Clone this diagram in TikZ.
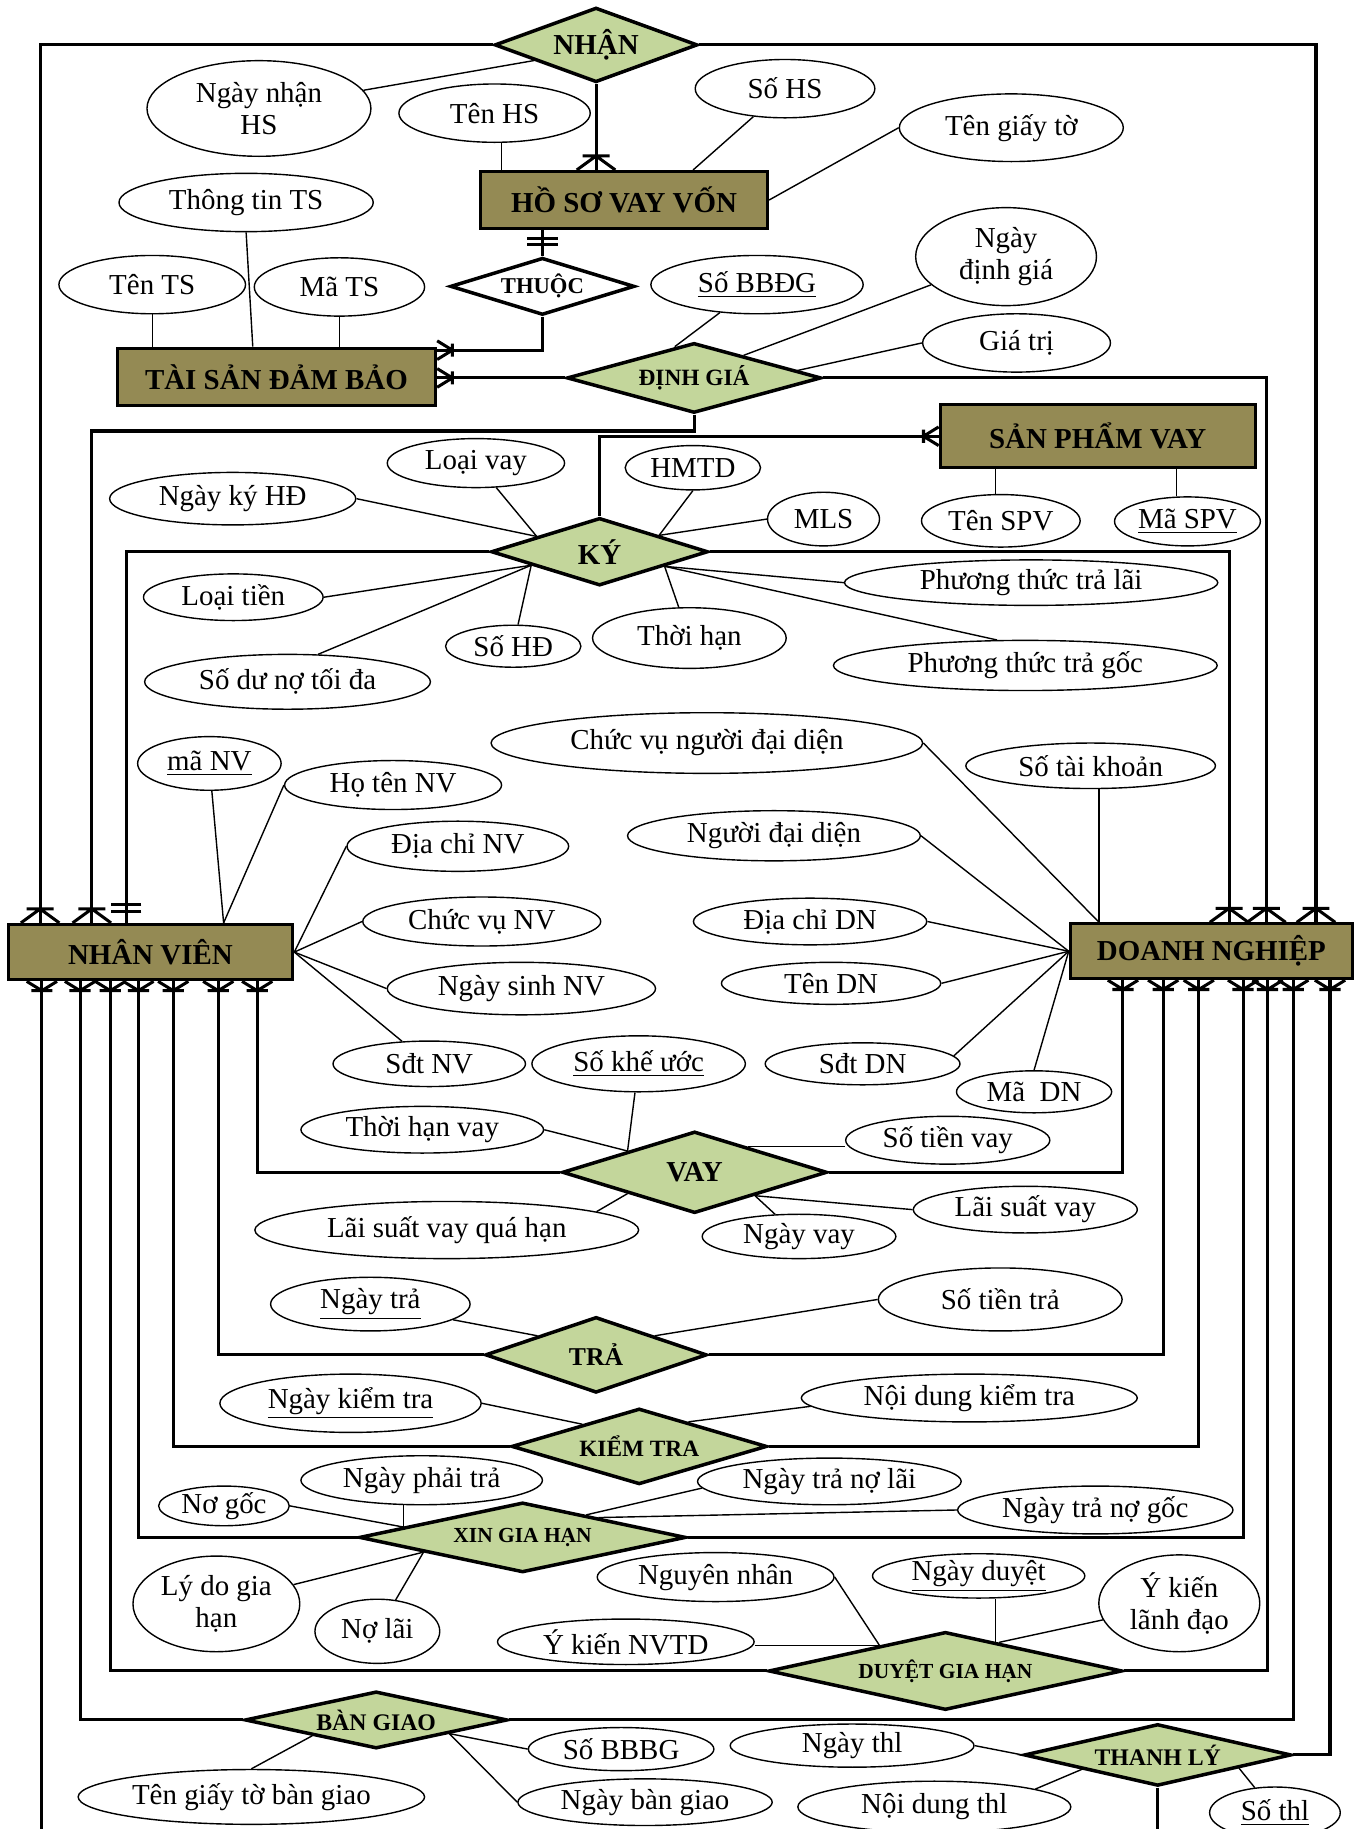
\documentclass[tikz,border=0pt]{standalone}
\usepackage{fontspec}
\setmainfont{Liberation Serif}
\usetikzlibrary{shapes.geometric,arrows.meta,calc}

\definecolor{entfill}{HTML}{948A54}
\definecolor{relfill}{HTML}{C3D69B}

% crow's foot with a bar ("one or many")
\pgfdeclarearrow{
  name = CrowFoot,
  parameters = {\the\pgfarrowlength,\the\pgfarrowwidth},
  setup code = {
    \pgfarrowssettipend{0pt}
    \pgfarrowssetlineend{0pt}
    \pgfarrowssetbackend{-\pgfarrowlength}
    \pgfarrowssavethe\pgfarrowlength
    \pgfarrowssavethe\pgfarrowwidth
  },
  drawing code = {
    \pgfsetdash{}{0pt}
    \pgfsetroundjoin
    \pgfpathmoveto{\pgfqpoint{0pt}{.5\pgfarrowwidth}}
    \pgfpathlineto{\pgfqpoint{-\pgfarrowlength}{0pt}}
    \pgfpathlineto{\pgfqpoint{0pt}{-.5\pgfarrowwidth}}
    \pgfpathmoveto{\pgfqpoint{-\pgfarrowlength}{.35\pgfarrowwidth}}
    \pgfpathlineto{\pgfqpoint{-\pgfarrowlength}{-.35\pgfarrowwidth}}
    \pgfusepathqstroke
  },
  defaults = {length = 6pt, width = 16pt}
}

% two bars ("one and only one")
\pgfdeclarearrow{
  name = TwoBars,
  parameters = {\the\pgfarrowlength,\the\pgfarrowwidth},
  setup code = {
    \pgfarrowssettipend{0pt}
    \pgfarrowssetlineend{0pt}
    \pgfarrowssetbackend{-\pgfarrowlength}
    \pgfarrowssavethe\pgfarrowlength
    \pgfarrowssavethe\pgfarrowwidth
  },
  drawing code = {
    \pgfsetdash{}{0pt}
    \pgfpathmoveto{\pgfqpoint{-.6\pgfarrowlength}{.5\pgfarrowwidth}}
    \pgfpathlineto{\pgfqpoint{-.6\pgfarrowlength}{-.5\pgfarrowwidth}}
    \pgfpathmoveto{\pgfqpoint{-\pgfarrowlength}{.5\pgfarrowwidth}}
    \pgfpathlineto{\pgfqpoint{-\pgfarrowlength}{-.5\pgfarrowwidth}}
    \pgfusepathqstroke
  },
  defaults = {length = 8pt, width = 13pt}
}

% attribute ellipse: name, x, y, half width, half height, text
\newcommand\attrnode[6]{\node[attr, minimum width=#4pt, minimum height=#5pt] (#1) at (#2,#3) {#6};}

\begin{document}
\begin{tikzpicture}[x=0.5pt, y=-0.5pt,
  ent/.style={draw, line width=1.3pt, fill=entfill, inner sep=0pt,
    font=\bfseries\fontsize{12.4}{14}\selectfont},
  rel/.style={diamond, draw, line width=1.5pt, fill=relfill, inner sep=0pt,
    font=\bfseries\fontsize{#1}{#1}\selectfont},
  rel/.default=12.4,
  attr/.style={ellipse, draw, line width=0.6pt, fill=white, inner sep=0pt,
    align=center, font=\fontsize{12.4}{14}\selectfont},
  conn/.style={line width=1.3pt},
  al/.style={line width=0.6pt},
  cft/.style={-{CrowFoot[length=6pt,width=16.5pt]}},
  cfb/.style={-{CrowFoot[length=4pt,width=13pt]}},
  cfs/.style={-{CrowFoot[length=6.5pt,width=8pt]}},
  bbt/.style={-{TwoBars[length=8pt,width=13pt]}},
  bbs/.style={-{TwoBars[length=6pt,width=13pt]}}
]
\useasboundingbox (0,0) rectangle (1162,1568);
\fill[white] (0,0) rectangle (1162,1568);
\coordinate (pagebot) at (0,1580);

% ---------- entities ----------
\node[ent, minimum width=123pt, minimum height=24.5pt] (hs) at (535,171.5) {HỒ SƠ VAY VỐN};
\node[ent, minimum width=136.5pt, minimum height=24.75pt] (ts) at (237,323.25) {TÀI SẢN ĐẢM BẢO};
\node[ent, minimum width=135pt, minimum height=27pt] (spv) at (941,374) {SẢN PHẨM VAY};
\node[ent, minimum width=122pt, minimum height=23.75pt] (nv) at (129,816.25) {NHÂN VIÊN};
\node[ent, minimum width=121pt, minimum height=23.5pt] (dn) at (1038.5,815.5) {DOANH NGHIỆP};

% ---------- relationships ----------
\node[rel, minimum width=87pt, minimum height=32pt, aspect=2.72] (nhan) at (511,38.5) {NHẬN};
\node[rel=9.7, fill=white, minimum width=79pt, minimum height=24.5pt, aspect=3.2] (thuoc) at (465,245.5) {THUỘC};
\node[rel=10, minimum width=109pt, minimum height=30pt, aspect=3.63] (dg) at (595,324) {ĐỊNH GIÁ};
\node[rel, minimum width=93pt, minimum height=29pt, aspect=3.2] (ky) at (514,473) {KÝ};
\node[rel, minimum width=113.5pt, minimum height=35pt, aspect=3.24] (vay) at (595.5,1005) {VAY};
\node[rel=11, minimum width=95pt, minimum height=32.5pt, aspect=2.92] (tra) at (511,1161.5) {TRẢ};
\node[rel=10, minimum width=109.5pt, minimum height=32.5pt, aspect=3.37] (kt) at (548,1240) {KIỂM TRA};
\node[rel=9.2, minimum width=140pt, minimum height=30pt, aspect=4.67] (xgh) at (448,1318) {XIN GIA HẠN};
\node[rel=9.2, minimum width=151.5pt, minimum height=33.5pt, aspect=4.5] (dgh) at (810.5,1432.5) {DUYỆT GIA HẠN};
\node[rel=10.2, minimum width=112.5pt, minimum height=24.5pt, aspect=4.5] (bg) at (322.5,1474.5) {BÀN GIAO};
\node[rel=10.2, minimum width=114.5pt, minimum height=26.5pt, aspect=4.26] (tl) at (992.5,1504.5) {THANH LÝ};

% ---------- attributes ----------
\attrnode{nnhs}{222}{93}{96}{41}{Ngày nhận\\HS}
\attrnode{tenhs}{424}{97}{82}{25}{Tên HS}
\attrnode{sohs}{673}{76}{77}{25}{Số HS}
\attrnode{tgt}{867}{109.5}{96}{29}{Tên giấy tờ}
\attrnode{ttts}{211}{173.6}{109}{25}{Thông tin TS}
\attrnode{tents}{130.5}{244}{80}{25}{Tên TS}
\attrnode{mats}{291}{246}{73}{25}{Mã TS}
\attrnode{sobbdg}{649}{244}{91}{25}{\underline{Số BBĐG}}
\attrnode{ndg}{862.5}{220}{77.5}{42}{Ngày\\định giá}
\attrnode{giatri}{871.5}{294}{80.5}{25}{Giá trị}
\attrnode{tenspv}{858}{446.5}{68}{22.5}{Tên SPV}
\attrnode{maspv}{1018}{447}{62.5}{21}{\underline{Mã SPV}}
\attrnode{loaivay}{408}{397}{76}{21}{Loại vay}
\attrnode{nkhd}{199.5}{427.5}{105.5}{22.5}{Ngày ký HĐ}
\attrnode{hmtd}{594}{401}{58}{19}{HMTD}
\attrnode{mls}{706}{445}{48}{23}{MLS}
\attrnode{loaitien}{200}{512}{77}{20}{Loại tiền}
\attrnode{sdn}{246.5}{584.5}{122.5}{23.5}{Số dư nợ tối đa}
\attrnode{sohd}{440}{554}{58}{18}{Số HĐ}
\attrnode{thoihan}{591}{547}{83}{26}{Thời hạn}
\attrnode{pttl}{884}{499.5}{160}{19.5}{Phương thức trả lãi}
\attrnode{pttg}{879}{570.5}{164.5}{21.5}{Phương thức trả gốc}
\attrnode{cvndd}{606}{637}{185}{26}{Chức vụ người đại diện}
\attrnode{stk}{935}{656.5}{107}{19.5}{Số tài khoản}
\attrnode{ndd}{663.5}{716.5}{125.5}{21.5}{Người đại diện}
\attrnode{manv}{179.5}{654.5}{61.5}{23}{\underline{mã NV}}
\attrnode{htnv}{337}{673}{93}{21}{Họ tên NV}
\attrnode{dcnv}{392.5}{725.5}{95}{21.5}{Địa chỉ NV}
\attrnode{cvnv}{413}{790}{102}{21}{Chức vụ NV}
\attrnode{nsnv}{447}{847.5}{115}{22.5}{Ngày sinh NV}
\attrnode{sdtnv}{368}{912}{82.5}{19.5}{Sđt NV}
\attrnode{dcdn}{694.5}{790}{100}{20}{Địa chỉ DN}
\attrnode{tendn}{712.5}{843}{94}{18}{Tên DN}
\attrnode{sdtdn}{739.5}{912}{83.5}{18}{Sđt DN}
\attrnode{madn}{886.5}{936}{66.5}{18}{Mã~~DN}
\attrnode{ske}{547.5}{912}{91.5}{24}{\underline{Số khế ước}}
\attrnode{thv}{362}{968.5}{104}{20}{Thời hạn vay}
\attrnode{stv}{812.5}{977.5}{87.5}{20.5}{Số tiền vay}
\attrnode{lsvqh}{383}{1054.5}{164.5}{24.5}{Lãi suất vay quá hạn}
\attrnode{nvay}{685}{1060}{83}{19}{Ngày vay}
\attrnode{lsv}{879}{1037}{96}{20}{Lãi suất vay}
\attrnode{ntra}{317.5}{1118}{85.5}{23}{\underline{Ngày trả}}
\attrnode{sttra}{857.5}{1114}{104.5}{27}{Số tiền trả}
\attrnode{nkt}{300.5}{1203}{112}{25}{\underline{Ngày kiểm tra}}
\attrnode{ndkt}{831}{1198.5}{144}{20.5}{Nội dung kiểm tra}
\attrnode{nogoc}{192}{1291}{56}{17}{Nơ gốc}
\attrnode{npt}{361.5}{1269}{103.5}{21}{Ngày phải trả}
\attrnode{ntnl}{711}{1270}{113}{20}{Ngày trả nợ lãi}
\attrnode{ntng}{939}{1294.5}{118}{20.5}{Ngày trả nợ gốc}
\attrnode{lydo}{185.5}{1375}{71.5}{41}{Lý do gia\\hạn}
\attrnode{nolai}{323.5}{1398.5}{53.5}{27.5}{Nợ lãi}
\attrnode{ngn}{613.5}{1352}{101.5}{21}{Nguyên nhân}
\attrnode{nduyet}{839}{1351}{91}{19}{\underline{Ngày duyệt}}
\attrnode{yk}{1011}{1374.5}{69}{41.5}{Ý kiến\\lãnh đạo}
\attrnode{yknv}{536.5}{1407.5}{110}{19.5}{Ý kiến NVTD}
\attrnode{tgtbg}{215.5}{1540.5}{148.5}{23.5}{Tên giấy tờ bàn giao}
\attrnode{sobbbg}{532.5}{1499.5}{79.5}{18.5}{Số BBBG}
\attrnode{nbg}{553}{1545}{109}{20}{Ngày bàn giao}
\attrnode{nthl}{730.5}{1496.5}{104.5}{18.5}{Ngày thl}
\attrnode{ndthl}{801}{1549}{117}{22}{Nội dung thl}
\attrnode{sothl}{1093}{1554}{56}{22}{\underline{Số thl}}

% ---------- ports on the entity boxes ----------
\coordinate (nvT1) at ($(nv.north west)+(28.7,0)$);
\coordinate (nvT2) at ($(nv.north west)+(73,0)$);
\coordinate (nvT3) at ($(nv.north west)+(102.5,0)$);
\coordinate (nvB1) at ($(nv.south west)+(30.2,0)$);
\coordinate (nvB2) at ($(nv.south west)+(62.9,0)$);
\coordinate (nvB3) at ($(nv.south west)+(88.9,0)$);
\coordinate (nvB4) at ($(nv.south west)+(113,0)$);
\coordinate (nvB5) at ($(nv.south west)+(142.8,0)$);
\coordinate (nvB6) at ($(nv.south west)+(181.4,0)$);
\coordinate (nvB7) at ($(nv.south west)+(214.8,0)$);
\coordinate (dnT1) at ($(dn.north west)+(137.5,0)$);
\coordinate (dnT2) at ($(dn.north west)+(169.5,0)$);
\coordinate (dnT3) at ($(dn.north west)+(212,0)$);
\coordinate (dnB1) at ($(dn.south west)+(46.5,0)$);
\coordinate (dnB2) at ($(dn.south west)+(81,0)$);
\coordinate (dnB3) at ($(dn.south west)+(111.5,0)$);
\coordinate (dnB4) at ($(dn.south west)+(149.5,0)$);
\coordinate (dnB5) at ($(dn.south west)+(170.5,0)$);
\coordinate (dnB6) at ($(dn.south west)+(192.5,0)$);
\coordinate (dnB7) at ($(dn.south west)+(224,0)$);
\coordinate (tsR) at ($(ts.north east)+(0,3)$);
\coordinate (hsTop) at ($(hs.north west)+(183.5,0)$);
\coordinate (tsTop) at ($(ts.north west)+(117.5,0)$);
\coordinate (nvTop) at ($(nv.north west)+(186,0)$);
\coordinate (dnTop) at ($(dn.north west)+(26,0)$);

% ---------- relationship connectors ----------
\draw[conn, cft] (nhan.west) -| (nvT1);
\draw[conn, cft] (nhan.east) -| (dnT3);
\draw[conn, cft] (nhan.south) -- (nhan.south |- hs.north);
\draw[conn, bbs] (thuoc.north) -- (thuoc.north |- hs.south);
\draw[conn, cfs] (thuoc.south) |- (tsR);
\draw[conn, cfs] (dg.west) -- (dg.west -| ts.east);
\draw[conn, cft] (dg.east) -| (dnT2);
\draw[conn, cft] (dg.south) -- ++(0,14) -| (nvT2);
\draw[conn, cfs] (ky.north) |- (spv.west);
\draw[conn, bbt] (ky.west) -| (nvT3);
\draw[conn, cft] (ky.east) -| (dnT1);
\draw[conn, cfb] (vay.west) -| (nvB7);
\draw[conn, cfb] (vay.east) -| (dnB1);
\draw[conn, cfb] (tra.west) -| (nvB6);
\draw[conn, cfb] (tra.east) -| (dnB2);
\draw[conn, cfb] (kt.west) -| (nvB5);
\draw[conn, cfb] (kt.east) -| (dnB3);
\draw[conn, cfb] (xgh.west) -| (nvB4);
\draw[conn, cfb] (xgh.east) -| (dnB4);
\draw[conn, cfb] (dgh.west) -| (nvB3);
\draw[conn, cfb] (dgh.east) -| (dnB5);
\draw[conn, cfb] (bg.west) -| (nvB2);
\draw[conn, cfb] (bg.east) -| (dnB6);
\draw[conn, cfb] (tl.east) -| (dnB7);
\draw[conn, cfb] (nvB1 |- pagebot) -- (nvB1);
\draw[conn] (tl.south) -- (tl.south |- pagebot);

% ---------- attribute links ----------
% NHAN, HO SO, TAI SAN
\draw[al] (nnhs) -- ($(nhan.west)!.4!(nhan.south)$);
\coordinate (tenhsP) at ($(tenhs.south)+(6,0)$);
\draw[al] (tenhsP) -- (tenhsP |- hs.north);
\draw[al] (sohs) -- (hsTop);
\draw[al] (tgt.west) -- (hs.east);
\draw[al] (tents.south) -- (tents.south |- ts.north);
\draw[al] (ttts.south) -- (tsTop);
\draw[al] (mats.south) -- (mats.south |- ts.north);
% DINH GIA
\draw[al] (sobbdg) -- ($(dg.north)!.15!(dg.west)$);
\draw[al] (ndg) -- ($(dg.north)!.385!(dg.east)$);
\draw[al] (giatri.west) -- ($(dg.north)!.8!(dg.east)$);
% SAN PHAM VAY
\coordinate (tenspvP) at ($(tenspv.north)+(-4.5,0)$);
\draw[al] (tenspvP) -- (tenspvP |- spv.south);
\coordinate (maspvP) at ($(maspv.north)+(-9.5,0)$);
\draw[al] (maspvP) -- (maspvP |- spv.south);
% KY
\coordinate (kyUL) at ($(ky.west)!.43!(ky.north)$);
\coordinate (kyUR) at ($(ky.north)!.54!(ky.east)$);
\coordinate (kyLL) at ($(ky.west)!.38!(ky.south)$);
\coordinate (kyLR) at ($(ky.east)!.41!(ky.south)$);
\draw[al] (loaivay) -- (kyUL);
\draw[al] (nkhd.east) -- (kyUL);
\draw[al] (hmtd.south) -- (kyUR);
\draw[al] (mls.west) -- (kyUR);
\draw[al] (loaitien.east) -- (kyLL);
\draw[al] (sdn.42) -- (kyLL);
\draw[al] (sohd) -- (kyLL);
\draw[al] (thoihan) -- (kyLR);
\draw[al] (pttl.west) -- (kyLR);
\draw[al] (pttg.138) -- (kyLR);
% NHAN VIEN
\draw[al] (manv) -- (nvTop);
\draw[al] (htnv.west) -- (nvTop);
\draw[al] (dcnv.west) -- (nv.east);
\draw[al] (cvnv.west) -- (nv.east);
\draw[al] (nsnv.west) -- (nv.east);
\draw[al] (sdtnv) -- (nv.east);
% DOANH NGHIEP
\draw[al] (cvndd.east) -- (dnTop);
\draw[al] (stk.south -| dnTop) -- (dnTop);
\draw[al] (ndd.east) -- (dn.west);
\draw[al] (dcdn.east) -- (dn.west);
\draw[al] (tendn.east) -- (dn.west);
\draw[al] (sdtdn.5) -- (dn.west);
\draw[al] (madn.north) -- (dn.west);
% VAY
\coordinate (vayUL) at ($(vay.west)!.5!(vay.north)$);
\coordinate (vayUR) at ($(vay.north)!.4!(vay.east)$);
\coordinate (vayLL) at ($(vay.west)!.5!(vay.south)$);
\coordinate (vayLR) at ($(vay.south)!.45!(vay.east)$);
\draw[al] (ske) -- (vayUL);
\draw[al] (thv.east) -- (vayUL);
\draw[al] (vayUR) -- (vayUR -| stv.west);
\draw[al] (lsvqh.7) -- (vayLL);
\draw[al] (nvay) -- (vayLR);
\draw[al] (lsv.west) -- (vayLR);
% TRA
\draw[al] (ntra) -- ($(tra.west)!.48!(tra.north)$);
\draw[al] (sttra.west) -- ($(tra.north)!.52!(tra.east)$);
% KIEM TRA
\draw[al] (nkt.east) -- ($(kt.west)!.56!(kt.north)$);
\draw[al] (ndkt.183) -- ($(kt.north)!.38!(kt.east)$);
% XIN GIA HAN
\coordinate (xghUL) at ($(xgh.west)!.28!(xgh.north)$);
\coordinate (xghLL) at ($(xgh.west)!.4!(xgh.south)$);
\draw[al] (nogoc.east) -- (xghUL);
\draw[al] (xghUL |- npt.south) -- (xghUL);
\draw[al] (ntnl.183) -- ($(xgh.north)!.386!(xgh.east)$);
\draw[al] (ntng.west) -- ($(xgh.north)!.46!(xgh.east)$);
\draw[al] (lydo) -- (xghLL);
\draw[al] (nolai) -- (xghLL);
% DUYET GIA HAN
\coordinate (dghUL) at ($(dgh.west)!.63!(dgh.north)$);
\coordinate (dghUR) at ($(dgh.north)!.28!(dgh.east)$);
\draw[al] (ngn.east) -- (dghUL);
\draw[al] (yknv.east |- dghUL) -- (dghUL);
\draw[al] (dghUR |- nduyet.south) -- (dghUR);
\draw[al] (yk) -- ($(dgh.north)!.3!(dgh.east)$);
% BAN GIAO
\coordinate (bgLR) at ($(bg.east)!.45!(bg.south)$);
\draw[al] (tgtbg.north) -- ($(bg.west)!.52!(bg.south)$);
\draw[al] (sobbbg.west) -- (bgLR);
\draw[al] (nbg.west) -- (bgLR);
% THANH LY
\draw[al] (nthl.east) -- (tl.west);
\draw[al] (ndthl.10) -- ($(tl.west)!.44!(tl.south)$);
\draw[al] (sothl) -- ($(tl.east)!.4!(tl.south)$);
\end{tikzpicture}
\end{document}
